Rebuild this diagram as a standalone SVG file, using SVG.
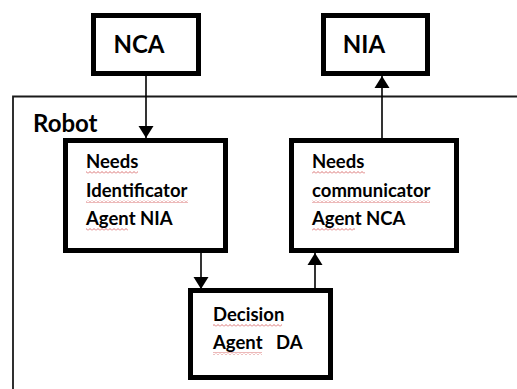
<svg xmlns="http://www.w3.org/2000/svg" width="517" height="389" viewBox="0 0 517 389">
  <style>
    .box { fill: #ffffff; stroke: #000000; stroke-width: 5; }
    .frame { fill: none; stroke: #1a1a1a; stroke-width: 1.8; }
    .title { font-family: Lato, "Liberation Sans", sans-serif; font-weight: bold; font-size: 24px; fill: #000000; }
    .label { font-family: Lato, "Liberation Sans", sans-serif; font-weight: bold; font-size: 18.5px; fill: #000000; }
    .wire { stroke: #000000; stroke-width: 1.6; fill: none; marker-end: url(#head); }
    .squiggle { fill: url(#wave); }
  </style>
  <defs>
    <marker id="head" markerWidth="14" markerHeight="16" refX="12" refY="8" orient="auto" markerUnits="userSpaceOnUse">
      <path d="M0,0.5 L12,8 L0,15.5 Z" fill="#000000"/>
    </marker>
    <!-- spell-check style wavy underline -->
    <pattern id="wave" width="4" height="3" patternUnits="userSpaceOnUse">
      <path d="M0,2.5 L2,0.5 L4,2.5" fill="none" stroke="#d05050" stroke-width="0.8"/>
    </pattern>
  </defs>

  <rect width="517" height="389" fill="#ffffff"/>

  <!-- Robot container -->
  <g id="robot">
    <path class="frame" d="M13,389 L13,96.5 L517,96.5"/>
    <text class="title" x="33" y="132">Robot</text>
  </g>

  <!-- Connectors -->
  <g id="connectors">
    <line class="wire" x1="146" y1="76" x2="146" y2="138"/>
    <line class="wire" x1="382" y1="138" x2="382" y2="76"/>
    <line class="wire" x1="201" y1="252" x2="201" y2="289"/>
    <line class="wire" x1="315" y1="289" x2="315" y2="253"/>
  </g>

  <g id="nca">
    <rect class="box" x="93.5" y="15.5" width="105" height="58"/>
    <text class="title" x="139" y="53" text-anchor="middle">NCA</text>
  </g>

  <g id="nia">
    <rect class="box" x="323.5" y="15.5" width="104" height="58"/>
    <text class="title" x="364" y="53" text-anchor="middle">NIA</text>
  </g>

  <g id="needs-identificator">
    <rect class="box" x="65.5" y="140.5" width="160" height="110"/>
    <text class="label" x="86" y="168">Needs</text>
    <text class="label" x="86" y="197">Identificator</text>
    <text class="label" x="86" y="225">Agent NIA</text>
    <rect class="squiggle" x="86" y="171" width="52" height="3"/>
    <rect class="squiggle" x="86" y="200" width="102" height="3"/>
    <rect class="squiggle" x="86" y="228" width="42" height="3"/>
  </g>

  <g id="needs-communicator">
    <rect class="box" x="291.5" y="140.5" width="165" height="110"/>
    <text class="label" x="312" y="168">Needs</text>
    <text class="label" x="312" y="197">communicator</text>
    <text class="label" x="312" y="225">Agent NCA</text>
    <rect class="squiggle" x="312" y="171" width="53" height="3"/>
    <rect class="squiggle" x="312" y="200" width="118" height="3"/>
    <rect class="squiggle" x="312" y="228" width="43" height="3"/>
  </g>

  <g id="decision">
    <rect class="box" x="190.5" y="290.5" width="140" height="87"/>
    <text class="label" x="213" y="321">Decision</text>
    <text class="label" x="213" y="349" xml:space="preserve">Agent   DA</text>
    <rect class="squiggle" x="213" y="324" width="69" height="3"/>
    <rect class="squiggle" x="213" y="352" width="49" height="3"/>
  </g>
</svg>
